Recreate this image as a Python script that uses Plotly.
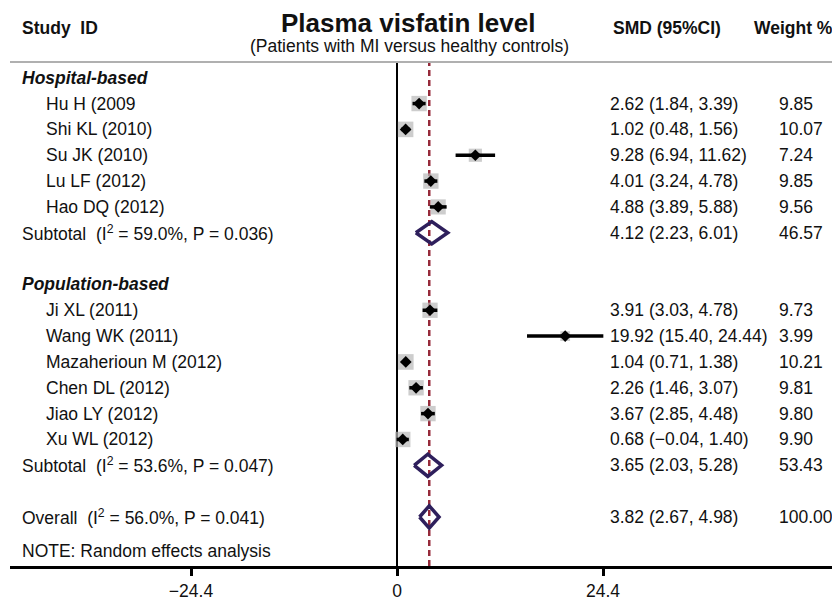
import plotly.graph_objects as go
import math

# ---------------- data ----------------
hosp_studies = ["Hu H (2009", "Shi KL (2010)", "Su JK (2010)", "Lu LF (2012)", "Hao DQ (2012)"]
hosp_smd = [2.62, 1.02, 9.28, 4.01, 4.88]
hosp_lo = [1.84, 0.48, 6.94, 3.24, 3.89]
hosp_hi = [3.39, 1.56, 11.62, 4.78, 5.88]
hosp_w = [9.85, 10.07, 7.24, 9.85, 9.56]
hosp_sub = (4.12, 2.23, 6.01, 46.57)
hosp_het = "Subtotal  (I<sup>2</sup> = 59.0%, P = 0.036)"

pop_studies = ["Ji XL (2011)", "Wang WK (2011)", "Mazaherioun M (2012)", "Chen DL (2012)",
               "Jiao LY (2012)", "Xu WL (2012)"]
pop_smd = [3.91, 19.92, 1.04, 2.26, 3.67, 0.68]
pop_lo = [3.03, 15.40, 0.71, 1.46, 2.85, -0.04]
pop_hi = [4.78, 24.44, 1.38, 3.07, 4.48, 1.40]
pop_w = [9.73, 3.99, 10.21, 9.81, 9.80, 9.90]
pop_sub = (3.65, 2.03, 5.28, 53.43)
pop_het = "Subtotal  (I<sup>2</sup> = 53.6%, P = 0.047)"

overall = (3.82, 2.67, 4.98, 100.00)
overall_het = "Overall  (I<sup>2</sup> = 56.0%, P = 0.041)"

tick_vals = [-24.4, 0, 24.4]
tick_text = ["\u221224.4", "0", "24.4"]

title = "Plasma visfatin level"
subtitle = "(Patients with MI versus healthy controls)"

# ---------------- layout constants ----------------
W, H = 832, 601
L, R = 10, 0
T = 62
AXIS_Y = 575
B = H - AXIS_Y
PW = W - L - R
PH = H - T - B
FONT = "Liberation Sans, Arial, sans-serif"
FS = 17.5
TXT = "#111111"

def px(xpix):  # window pixel -> paper x
    return (xpix - L) / PW

def py(ypix):  # window pixel -> paper y
    return (AXIS_Y - ypix) / PH

def fmt(v):
    return f"{v:.2f}".replace("-", "\u2212")

def ci_text(e, lo, hi):
    return f"{fmt(e)} ({fmt(lo)}, {fmt(hi)})"

# row assignment
r = 0
group_rows, study_rows, sub_rows = [], [], []
group_rows.append((r, "Hospital-based")); r += 1
for i in range(len(hosp_studies)):
    study_rows.append((r, hosp_studies[i], hosp_smd[i], hosp_lo[i], hosp_hi[i], hosp_w[i])); r += 1
sub_rows.append((r, hosp_het) + hosp_sub); r += 2
group_rows.append((r, "Population-based")); r += 1
for i in range(len(pop_studies)):
    study_rows.append((r, pop_studies[i], pop_smd[i], pop_lo[i], pop_hi[i], pop_w[i])); r += 1
sub_rows.append((r, pop_het) + pop_sub); r += 2
sub_rows.append((r, overall_het) + overall); r += 1
note_row = r + 0.3

fig = go.Figure()

lx, ly = [], []
for (row, name, e, lo, hi, w) in study_rows:
    lx += [lo, hi, None]
    ly += [row, row, None]
# weight squares
fig.add_trace(go.Scatter(
    x=[s[2] for s in study_rows], y=[s[0] for s in study_rows], mode="markers",
    marker=dict(symbol="square", color="#b8b8b8", size=[4.9 * math.sqrt(s[5]) for s in study_rows],
                line=dict(width=0)),
    showlegend=False, hoverinfo="skip"))
# CI lines
fig.add_trace(go.Scatter(x=lx, y=ly, mode="lines", line=dict(color="black", width=3.5),
                         hoverinfo="skip", showlegend=False))
# point estimates
fig.add_trace(go.Scatter(
    x=[s[2] for s in study_rows], y=[s[0] for s in study_rows], mode="markers",
    marker=dict(symbol="diamond", color="black", size=9, line=dict(width=0)),
    showlegend=False, hoverinfo="skip"))

# pooled diamonds
for (row, lab, e, lo, hi, w) in sub_rows:
    hh = 0.43
    fig.add_trace(go.Scatter(x=[lo, e, hi, e, lo], y=[row, row - hh, row, row + hh, row],
                             mode="lines", line=dict(color="#2e1f5c", width=3.5),
                             showlegend=False, hoverinfo="skip"))

# vertical lines
fig.add_shape(type="line", xref="x", yref="paper", x0=0, x1=0, y0=0, y1=1,
              line=dict(color="black", width=2), layer="below")
fig.add_shape(type="line", xref="x", yref="paper", x0=overall[0], x1=overall[0], y0=0, y1=1,
              line=dict(color="#962a3a", width=2.5, dash="6px,4px"), layer="below")
# gray header rule
fig.add_shape(type="line", xref="paper", yref="paper", x0=0, x1=1, y0=1, y1=1,
              line=dict(color="#b0b0b0", width=2))

ann = []
def add_text(x, y, text, yref="y", size=FS, xanchor="left"):
    ann.append(dict(x=x, y=y, xref="paper", yref=yref, text=text, showarrow=False,
                    xanchor=xanchor, yanchor="middle", font=dict(family=FONT, size=size, color=TXT)))

X_LABEL = px(20)
X_STUDY = px(44)
X_SMD = px(608)
X_W = px(777)

for (row, name) in group_rows:
    add_text(X_LABEL, row, f"<b><i>{name}</i></b>")
for (row, name, e, lo, hi, w) in study_rows:
    add_text(X_STUDY, row, name)
    add_text(X_SMD, row, ci_text(e, lo, hi))
    add_text(X_W, row, f"{w:.2f}")
for (row, lab, e, lo, hi, w) in sub_rows:
    add_text(X_LABEL, row, lab)
    add_text(X_SMD, row, ci_text(e, lo, hi))
    add_text(X_W, row, f"{w:.2f}")
add_text(X_LABEL, note_row, "NOTE: Random effects analysis")

add_text(X_LABEL, py(27), "<b>Study  ID</b>", yref="paper")
add_text(px(611), py(27), "<b>SMD (95%CI)</b>", yref="paper")
add_text(px(752), py(27), "<b>Weight %</b>", yref="paper")
add_text(px(408), py(22), f"<b>{title}</b>", yref="paper", size=26, xanchor="center")
add_text(px(409), py(46), subtitle, yref="paper", xanchor="center")

# axis range so that 0 sits at pixel 397 and 24.4 at pixel 603
scale = (603 - 397) / 24.4
x0 = (L - 397) / scale
x1 = (W - R - 397) / scale
row_px = 26.3
y_top = -(78 - T) / row_px
y_bot = y_top + PH / row_px

fig.update_layout(
    width=W, height=H, margin=dict(l=L, r=R, t=T, b=B),
    plot_bgcolor="white", paper_bgcolor="white",
    annotations=ann, showlegend=False,
    xaxis=dict(range=[x0, x1], tickvals=tick_vals, ticktext=tick_text, ticks="outside",
               ticklen=7, tickwidth=2.5, tickcolor="black", showline=True, linewidth=3,
               linecolor="black", showgrid=False, zeroline=False, fixedrange=True,
               tickfont=dict(family=FONT, size=FS, color=TXT)),
    yaxis=dict(range=[y_bot, y_top], visible=False, showgrid=False, zeroline=False, fixedrange=True),
)

fig.write_html("out.html", config={"displayModeBar": False},
               post_script="document.body.style.margin='0';")
